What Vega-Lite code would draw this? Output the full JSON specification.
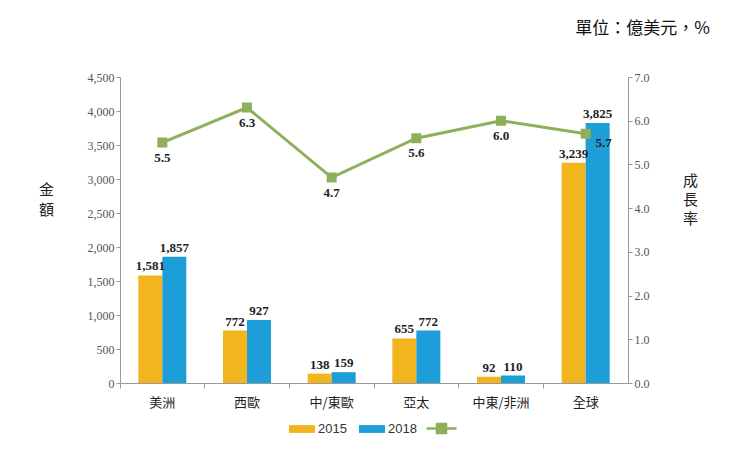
{
  "$schema": "https://vega.github.io/schema/vega-lite/v6.json",
  "autosize": "none",
  "width": 508,
  "height": 306,
  "padding": {"left": 120, "top": 77, "right": 117, "bottom": 85},
  "background": "white",
  "title": {
    "text": "單位：億美元，%",
    "anchor": "end",
    "frame": "group",
    "dx": 82,
    "offset": 33,
    "font": "Noto Sans CJK TC",
    "fontSize": 17,
    "fontWeight": "normal",
    "color": "#111"
  },
  "datasets": {
    "bars": [
      {"region": "美洲", "year": "2015", "value": 1581},
      {"region": "美洲", "year": "2018", "value": 1857},
      {"region": "西歐", "year": "2015", "value": 772},
      {"region": "西歐", "year": "2018", "value": 927},
      {"region": "中/東歐", "year": "2015", "value": 138},
      {"region": "中/東歐", "year": "2018", "value": 159},
      {"region": "亞太", "year": "2015", "value": 655},
      {"region": "亞太", "year": "2018", "value": 772},
      {"region": "中東/非洲", "year": "2015", "value": 92},
      {"region": "中東/非洲", "year": "2018", "value": 110},
      {"region": "全球", "year": "2015", "value": 3239},
      {"region": "全球", "year": "2018", "value": 3825}
    ],
    "growth": [
      {"region": "美洲", "series": "成長率", "rate": 5.5},
      {"region": "西歐", "series": "成長率", "rate": 6.3},
      {"region": "中/東歐", "series": "成長率", "rate": 4.7},
      {"region": "亞太", "series": "成長率", "rate": 5.6},
      {"region": "中東/非洲", "series": "成長率", "rate": 6.0},
      {"region": "全球", "series": "成長率", "rate": 5.7}
    ]
  },
  "encoding": {
    "x": {
      "field": "region",
      "type": "nominal",
      "sort": ["美洲", "西歐", "中/東歐", "亞太", "中東/非洲", "全球"],
      "scale": {"paddingInner": 0, "paddingOuter": 0},
      "axis": {
        "title": null,
        "labelAngle": 0,
        "labelFont": "Noto Sans CJK TC",
        "labelFontSize": 13,
        "labelColor": "#222",
        "labelPadding": 8,
        "bandPosition": 0,
        "tickSize": 5,
        "tickColor": "#999",
        "domainColor": "#999"
      }
    }
  },
  "layer": [
    {
      "data": {"name": "bars"},
      "encoding": {
        "xOffset": {"field": "year", "type": "nominal", "scale": {"paddingInner": 0, "paddingOuter": 0.764}},
        "y": {
          "field": "value",
          "type": "quantitative",
          "scale": {"domain": [0, 4500]},
          "axis": {
            "title": ["金", "額"],
            "titleAngle": 0,
            "titleX": -74,
            "titleY": 112,
            "titleBaseline": "middle",
            "titleFont": "Noto Sans CJK TC",
            "titleFontSize": 15,
            "titleFontWeight": "normal",
            "titleColor": "#222",
            "titleLineHeight": 20,
            "values": [0, 500, 1000, 1500, 2000, 2500, 3000, 3500, 4000, 4500],
            "labelExpr": "format(datum.value, ',')",
            "labelOverlap": false,
            "grid": false,
            "labelFont": "Liberation Serif",
            "labelFontSize": 12,
            "labelColor": "#555",
            "tickSize": 4,
            "tickColor": "#999",
            "domainColor": "#999"
          }
        }
      },
      "layer": [
        {
          "mark": {"type": "bar"},
          "encoding": {
            "color": {
              "field": "year",
              "type": "nominal",
              "scale": {"domain": ["2015", "2018"], "range": ["#F2B51E", "#1E9ED8"]},
              "legend": {
                "title": null,
                "orient": "none",
                "direction": "horizontal",
                "legendX": 169,
                "legendY": 339,
                "symbolType": "M-1,-0.3H1V0.3H-1Z",
                "symbolSize": 676,
                "symbolStrokeWidth": 0,
                "labelFont": "Liberation Sans",
                "labelFontSize": 13,
                "labelColor": "#333",
                "labelOffset": 3,
                "columnPadding": 12
              }
            }
          }
        },
        {
          "mark": {"type": "text", "dy": -9, "font": "Liberation Serif", "fontWeight": "bold", "fontSize": 13, "color": "#222"},
          "encoding": {
            "text": {"field": "value", "type": "quantitative", "format": ","}
          }
        }
      ]
    },
    {
      "data": {"name": "growth"},
      "encoding": {
        "y": {
          "field": "rate",
          "type": "quantitative",
          "scale": {"domain": [0, 7]},
          "axis": {
            "orient": "right",
            "title": ["成", "長", "率"],
            "titleAngle": 0,
            "titleX": 62,
            "titleY": 103,
            "titleBaseline": "middle",
            "titleFont": "Noto Sans CJK TC",
            "titleFontSize": 15,
            "titleFontWeight": "normal",
            "titleColor": "#222",
            "titleLineHeight": 19,
            "values": [0, 1, 2, 3, 4, 5, 6, 7],
            "labelExpr": "format(datum.value, '.1f')",
            "grid": false,
            "labelFont": "Liberation Serif",
            "labelFontSize": 12,
            "labelColor": "#555",
            "tickSize": 4,
            "tickColor": "#999",
            "domainColor": "#999"
          }
        }
      },
      "layer": [
        {
          "mark": {"type": "line", "strokeWidth": 3, "point": {"shape": "square", "filled": true, "size": 64, "color": "#8DB05A"}},
          "encoding": {
            "stroke": {
              "field": "series",
              "type": "nominal",
              "scale": {"range": ["#8DB05A"]},
              "legend": {
                "title": null,
                "orient": "none",
                "legendX": 305,
                "legendY": 335,
                "labelExpr": "''",
                "symbolType": "M-1,0H1M-0.3,-0.3H0.3V0.3H-0.3Z",
                "symbolSize": 900,
                "symbolStrokeWidth": 2.5,
                "symbolFillColor": "#8DB05A",
                "symbolStrokeColor": "#8DB05A"
              }
            }
          }
        },
        {
          "transform": [{"filter": "datum.region != '全球'"}],
          "mark": {"type": "text", "dy": 15, "font": "Liberation Serif", "fontWeight": "bold", "fontSize": 13, "color": "#222"},
          "encoding": {"text": {"field": "rate", "type": "quantitative", "format": ".1f"}}
        },
        {
          "transform": [{"filter": "datum.region == '全球'"}],
          "mark": {"type": "text", "dx": 18, "dy": 9, "font": "Liberation Serif", "fontWeight": "bold", "fontSize": 13, "color": "#222"},
          "encoding": {"text": {"field": "rate", "type": "quantitative", "format": ".1f"}}
        }
      ]
    }
  ],
  "resolve": {"scale": {"y": "independent"}},
  "config": {"view": {"stroke": null}}
}
